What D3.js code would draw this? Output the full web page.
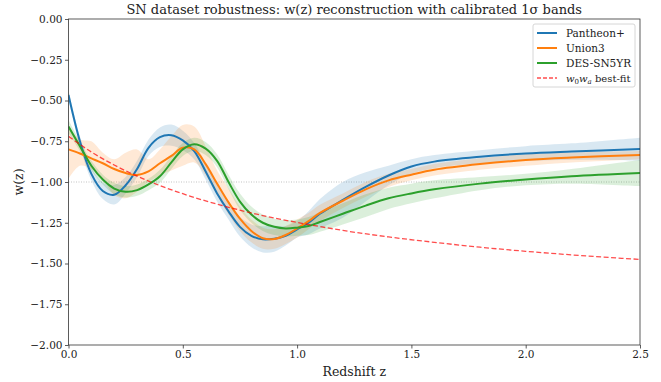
<!DOCTYPE html>
<html>
<head>
<meta charset="utf-8">
<script src="https://cdn.jsdelivr.net/npm/d3@7"></script>
<style>
  body { margin: 0; background: #fff; }
  svg { display: block; font-family: "DejaVu Serif", serif; }
</style>
</head>
<body>
<div id="chart"></div>
<script>
// data
const zGrid = [0, 0.05, 0.1, 0.15, 0.2, 0.25, 0.3, 0.35, 0.4, 0.45, 0.5, 0.55, 0.6, 0.65, 0.7, 0.75,
  0.8, 0.85, 0.9, 0.95, 1.0, 1.05, 1.1, 1.2, 1.3, 1.4, 1.5, 1.6, 1.8, 2.0, 2.2, 2.5];

const pantheon = [-0.466, -0.75, -0.95, -1.055, -1.078, -1.02, -0.92, -0.79, -0.725, -0.713, -0.745, -0.81,
  -0.935, -1.07, -1.18, -1.275, -1.33, -1.352, -1.348, -1.33, -1.29, -1.25, -1.195, -1.11, -1.03, -0.96,
  -0.905, -0.875, -0.845, -0.825, -0.813, -0.798];
const pantheonErr = [0.03, 0.03, 0.04, 0.05, 0.06, 0.05, 0.05, 0.05, 0.06, 0.065, 0.06, 0.05, 0.05, 0.05,
  0.05, 0.06, 0.07, 0.08, 0.08, 0.06, 0.05, 0.07, 0.09, 0.11, 0.09, 0.06, 0.045, 0.04, 0.04, 0.045, 0.05, 0.07];

const union3 = [-0.80, -0.825, -0.855, -0.885, -0.92, -0.945, -0.957, -0.935, -0.885, -0.84, -0.79, -0.80,
  -0.89, -1.01, -1.125, -1.225, -1.30, -1.345, -1.35, -1.325, -1.285, -1.24, -1.19, -1.115, -1.045, -0.99,
  -0.955, -0.925, -0.89, -0.865, -0.85, -0.834];
const union3Lo = [-0.98, -0.90, -0.92, -0.98, -1.08, -1.10, -1.06, -1.00, -0.96, -0.93, -0.90, -0.88,
  -0.96, -1.08, -1.20, -1.30, -1.37, -1.41, -1.41, -1.38, -1.34, -1.29, -1.24, -1.16, -1.09, -1.03,
  -0.99, -0.96, -0.925, -0.90, -0.88, -0.86];
const union3Hi = [-0.66, -0.74, -0.75, -0.82, -0.86, -0.82, -0.80, -0.86, -0.80, -0.72, -0.65, -0.66,
  -0.78, -0.93, -1.04, -1.15, -1.23, -1.28, -1.29, -1.27, -1.23, -1.19, -1.14, -1.07, -1.00, -0.95,
  -0.92, -0.89, -0.855, -0.83, -0.82, -0.81];

const desY5 = [-0.66, -0.78, -0.90, -0.985, -1.04, -1.06, -1.05, -1.015, -0.965, -0.88, -0.80, -0.768,
  -0.795, -0.87, -1.00, -1.12, -1.20, -1.25, -1.275, -1.285, -1.28, -1.27, -1.245, -1.195, -1.145, -1.10,
  -1.07, -1.045, -1.01, -0.985, -0.965, -0.945];
const desY5Err = [0.04, 0.03, 0.03, 0.03, 0.035, 0.035, 0.035, 0.035, 0.04, 0.04, 0.04, 0.04, 0.04, 0.04,
  0.045, 0.05, 0.05, 0.05, 0.05, 0.05, 0.05, 0.055, 0.06, 0.065, 0.07, 0.065, 0.06, 0.055, 0.04, 0.035, 0.045, 0.08];

const cplZ = [0, 0.1, 0.2, 0.3, 0.4, 0.5, 0.6, 0.7, 0.8, 0.9, 1.0, 1.2, 1.4, 1.6, 1.8, 2.0, 2.2, 2.5];
const cplW = [-0.72, -0.816, -0.896, -0.964, -1.022, -1.072, -1.116, -1.155, -1.19, -1.221, -1.248,
  -1.297, -1.337, -1.37, -1.40, -1.425, -1.447, -1.475];

const xTicks = [0, 0.5, 1.0, 1.5, 2.0, 2.5];
const yTicks = [0, -0.25, -0.5, -0.75, -1.0, -1.25, -1.5, -1.75, -2.0];

const series = [
  { name: "Pantheon+", color: "#1f77b4", w: pantheon, lo: pantheon.map((v, i) => v - pantheonErr[i]), hi: pantheon.map((v, i) => v + pantheonErr[i]) },
  { name: "Union3", color: "#ff7f0e", w: union3, lo: union3Lo, hi: union3Hi },
  { name: "DES-SN5YR", color: "#2ca02c", w: desY5, lo: desY5.map((v, i) => v - desY5Err[i]), hi: desY5.map((v, i) => v + desY5Err[i]) }
];

// layout
const WIDTH = 661;
const HEIGHT = 382;
const margin = { top: 19, right: 21, bottom: 37, left: 68.5 };
const innerW = WIDTH - margin.left - margin.right;
const innerH = HEIGHT - margin.top - margin.bottom;

const svg = d3.select("#chart").append("svg")
  .attr("width", WIDTH)
  .attr("height", HEIGHT);

const x = d3.scaleLinear().domain([0, 2.5]).range([0, innerW]);
const y = d3.scaleLinear().domain([-2, 0]).range([innerH, 0]);

const g = svg.append("g").attr("transform", `translate(${margin.left},${margin.top})`);

g.append("defs").append("clipPath").attr("id", "clip")
  .append("rect").attr("width", innerW).attr("height", innerH);

const plot = g.append("g").attr("clip-path", "url(#clip)");

// reference line at w = -1
plot.append("line")
  .attr("x1", 0).attr("x2", innerW)
  .attr("y1", y(-1)).attr("y2", y(-1))
  .attr("stroke", "#aaa")
  .attr("stroke-width", 1.2)
  .attr("stroke-dasharray", "1,1.5")
  .attr("opacity", 0.7);

const curve = d3.curveCatmullRom.alpha(0.5);

const area = d3.area()
  .x((d, i) => x(zGrid[i]))
  .curve(curve);

const line = d3.line()
  .x((d, i) => x(zGrid[i]))
  .y(d => y(d))
  .curve(curve);

// bands first
series.forEach(s => {
  plot.append("path")
    .datum(s.w)
    .attr("d", area.y0((d, i) => y(s.lo[i])).y1((d, i) => y(s.hi[i])))
    .attr("fill", s.color)
    .attr("opacity", 0.17);
});

series.forEach(s => {
  plot.append("path")
    .datum(s.w)
    .attr("d", line)
    .attr("fill", "none")
    .attr("stroke", s.color)
    .attr("stroke-width", 2);
});

// w0wa best fit
plot.append("path")
  .datum(cplW)
  .attr("d", d3.line().x((d, i) => x(cplZ[i])).y(d => y(d)).curve(d3.curveMonotoneX))
  .attr("fill", "none")
  .attr("stroke", "#ff0000")
  .attr("stroke-opacity", 0.7)
  .attr("stroke-width", 1.3)
  .attr("stroke-dasharray", "5,2.5");

// axes
const fmtY = d => d3.format(".2f")(d).replace("-", "\u2212");
const xAxis = g.append("g")
  .attr("transform", `translate(0,${innerH})`)
  .call(d3.axisBottom(x).tickValues(xTicks).tickFormat(d3.format(".1f")).tickSize(3.5).tickPadding(2));
const yAxis = g.append("g")
  .call(d3.axisLeft(y).tickValues(yTicks).tickFormat(fmtY).tickSize(3.5).tickPadding(2.5));

[xAxis, yAxis].forEach(a => {
  a.select(".domain").remove();
  a.selectAll("text").attr("font-family", "DejaVu Serif").attr("font-size", 10.5).attr("fill", "#222");
  a.selectAll("line").attr("stroke", "#333").attr("stroke-width", 0.8);
});

// frame
g.append("rect")
  .attr("width", innerW).attr("height", innerH)
  .attr("fill", "none")
  .attr("stroke", "#333")
  .attr("stroke-width", 0.8);

// labels
svg.append("text")
  .attr("x", margin.left + innerW / 2).attr("y", 14)
  .attr("text-anchor", "middle")
  .attr("font-size", 13)
  .attr("fill", "#222")
  .text("SN dataset robustness: w(z) reconstruction with calibrated 1\u03c3 bands");

svg.append("text")
  .attr("x", margin.left + innerW / 2).attr("y", 376)
  .attr("text-anchor", "middle")
  .attr("font-size", 12.5)
  .attr("fill", "#222")
  .text("Redshift z");

svg.append("text")
  .attr("transform", `translate(23,${margin.top + innerH / 2}) rotate(-90)`)
  .attr("text-anchor", "middle")
  .attr("font-size", 12.5)
  .attr("fill", "#222")
  .text("w(z)");

// legend
const legend = svg.append("g").attr("transform", "translate(533,24)");
legend.append("rect")
  .attr("width", 102).attr("height", 63)
  .attr("rx", 2)
  .attr("fill", "#fff").attr("fill-opacity", 0.8)
  .attr("stroke", "#ccc").attr("stroke-width", 0.8);

const legendItems = series.map(s => ({ name: s.name, color: s.color, dash: null, opacity: 1 }))
  .concat([{ name: "cpl", color: "#ff0000", dash: "4,2", opacity: 0.7 }]);

legendItems.forEach((d, i) => {
  const yy = 9 + i * 15;
  legend.append("line")
    .attr("x1", 4).attr("x2", 24)
    .attr("y1", yy).attr("y2", yy)
    .attr("stroke", d.color)
    .attr("stroke-opacity", d.opacity)
    .attr("stroke-width", d.dash ? 1.3 : 2)
    .attr("stroke-dasharray", d.dash);
  const t = legend.append("text")
    .attr("x", 33).attr("y", yy + 3.8)
    .attr("font-size", 10.5)
    .attr("fill", "#222");
  if (d.name === "cpl") {
    t.attr("font-size", 10);
    t.append("tspan").attr("font-style", "italic").text("w");
    t.append("tspan").attr("font-size", 7).attr("dy", 2).text("0");
    t.append("tspan").attr("font-style", "italic").attr("dy", -2).text("w");
    t.append("tspan").attr("font-size", 7).attr("font-style", "italic").attr("dy", 2).text("a");
    t.append("tspan").attr("dy", -2).text(" best-fit");
  } else {
    t.text(d.name);
  }
});
</script>
</body>
</html>
